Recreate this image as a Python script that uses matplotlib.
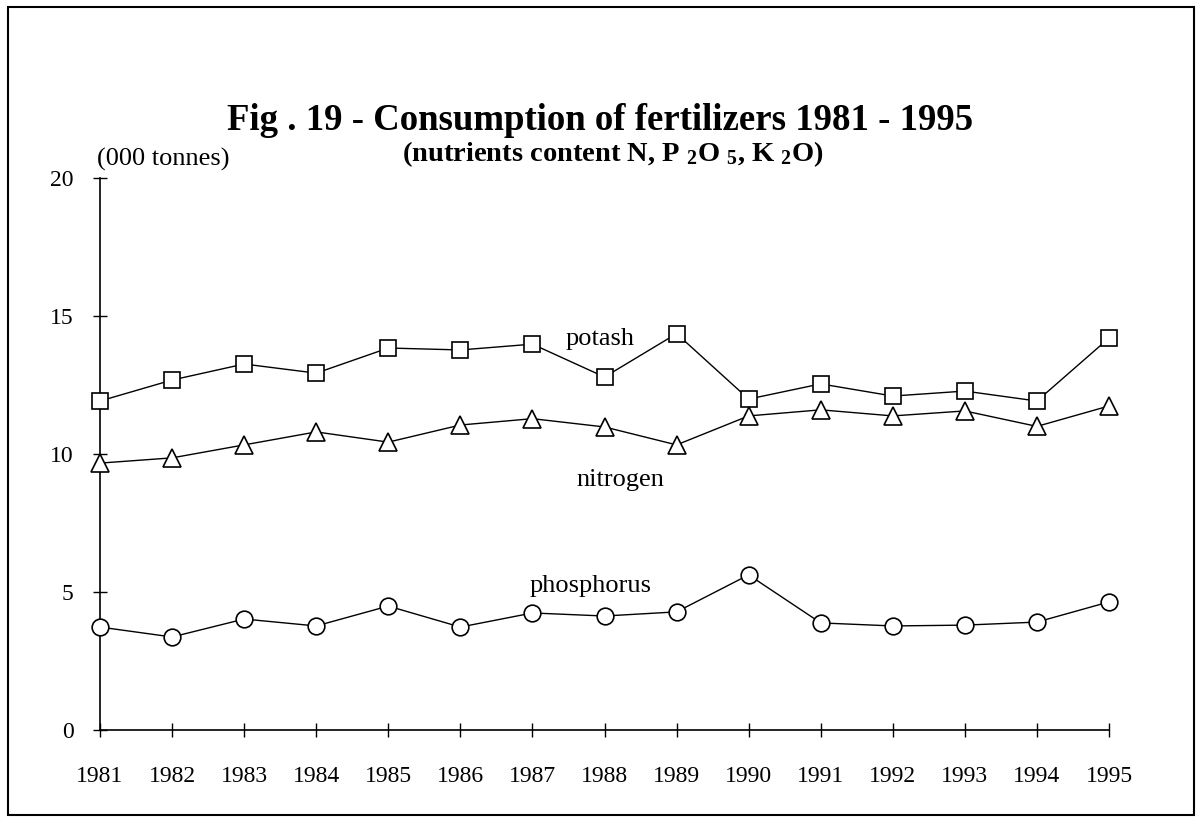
import matplotlib.pyplot as plt
from matplotlib.patches import Rectangle

years = list(range(1981, 1996))
potash = [11.92, 12.68, 13.26, 12.93, 13.84, 13.77, 13.98, 12.79, 14.36, 11.99, 12.54, 12.10, 12.28, 11.92, 14.20]
nitrogen = [9.67, 9.86, 10.33, 10.80, 10.43, 11.05, 11.28, 10.98, 10.33, 11.38, 11.60, 11.38, 11.56, 11.00, 11.74]
phosphorus = [3.73, 3.37, 4.02, 3.77, 4.49, 3.73, 4.24, 4.13, 4.28, 5.62, 3.88, 3.77, 3.80, 3.91, 4.64]
y_ticks = [0, 5, 10, 15, 20]

plt.rcParams['font.family'] = 'Liberation Serif'
plt.rcParams['mathtext.fontset'] = 'custom'
plt.rcParams['mathtext.rm'] = 'Liberation Serif:bold'
plt.rcParams['mathtext.it'] = 'Liberation Serif:bold'
plt.rcParams['mathtext.bf'] = 'Liberation Serif:bold'

fig = plt.figure(figsize=(11.98, 8.21), dpi=100)
ax = fig.add_axes([100/1198, 1-730/821, 1009/1198, 552/821])

style = dict(color='k', linewidth=1.0, markerfacecolor='white', markeredgecolor='k',
             markeredgewidth=1.2, clip_on=False, zorder=3)
ax.plot(years, potash, marker='s', markersize=12, **style)
ax.plot(years, nitrogen, marker='^', markersize=13, **style)
ax.plot(years, phosphorus, marker='o', markersize=12, **style)

ax.set_xlim(1981, 1995)
ax.set_ylim(0, 20)
ax.set_xticks(years)
ax.set_yticks(y_ticks)
ax.tick_params(direction='inout', length=10, width=1, labelsize=17)
ax.tick_params(axis='x', pad=21)
ax.tick_params(axis='y', pad=14)
for s in ['top', 'right']:
    ax.spines[s].set_visible(False)
for s in ['left', 'bottom']:
    ax.spines[s].set_linewidth(1.2)

ax.text(1987.94, 14.15, 'potash', fontsize=19, ha='center', va='center')
ax.text(1988.22, 9.05, 'nitrogen', fontsize=19, ha='center', va='center')
ax.text(1987.8, 5.2, 'phosphorus', fontsize=19, ha='center', va='center')

fig.text(97/1198, 1-159/821, '(000 tonnes)', fontsize=19, ha='left', va='center')
fig.text(600/1198, 1-121/821, 'Fig . 19 - Consumption of fertilizers 1981 - 1995',
         fontsize=26.5, fontweight='bold', ha='center', va='center')
fig.text(613/1198, 1-154/821, r'(nutrients content N, P $_{2}$O $_{5}$, K $_{2}$O)',
         fontsize=20.5, fontweight='bold', ha='center', va='center')

fig.patches.append(Rectangle((8/1198, 1-815/821), 1186/1198, 808/821, transform=fig.transFigure,
                             fill=False, edgecolor='k', linewidth=1.5))

plt.savefig('out.png', dpi=100)
